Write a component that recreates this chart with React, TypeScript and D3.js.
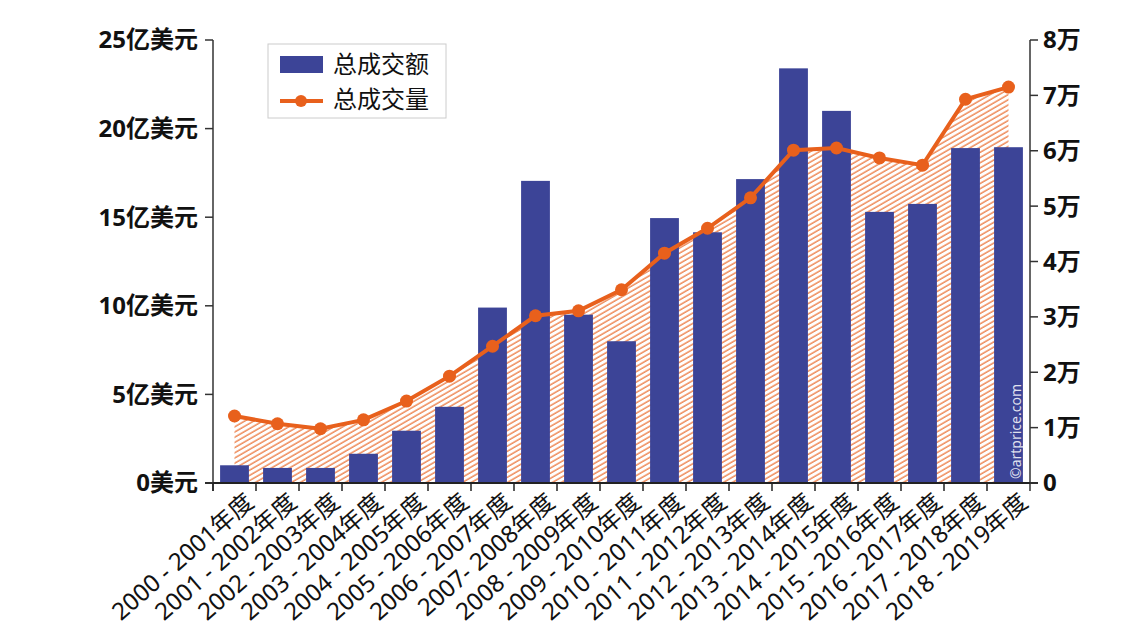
import React from "react";
import * as d3 from "d3";

const categories = [
  "2000 - 2001年度", "2001 - 2002年度", "2002 - 2003年度", "2003 - 2004年度",
  "2004 - 2005年度", "2005 - 2006年度", "2006 - 2007年度", "2007- 2008年度",
  "2008 - 2009年度", "2009 - 2010年度", "2010 - 2011年度", "2011 - 2012年度",
  "2012 - 2013年度", "2013 - 2014年度", "2014 - 2015年度", "2015 - 2016年度",
  "2016 - 2017年度", "2017 - 2018年度", "2018 - 2019年度",
];
// 总成交额 (亿美元)
const turnover = [1.0, 0.85, 0.85, 1.65, 2.95, 4.3, 9.9, 17.05, 9.5, 8.0, 14.95, 14.15, 17.15, 23.4, 21.0, 15.3, 15.75, 18.9, 18.95];
// 总成交量 (万)
const lots = [1.21, 1.07, 0.98, 1.14, 1.48, 1.93, 2.47, 3.02, 3.11, 3.49, 4.15, 4.6, 5.15, 6.01, 6.05, 5.87, 5.74, 6.93, 7.15];
const leftTicks = [0, 5, 10, 15, 20, 25];
const rightTicks = [0, 1, 2, 3, 4, 5, 6, 7, 8];
const leftFmt = (v: number) => (v === 0 ? "0美元" : `${v}亿美元`);
const rightFmt = (v: number) => (v === 0 ? "0" : `${v}万`);

const BAR = "#3c4497";
const ORANGE = "#e8601c";
const FONT = "'Noto Sans', 'Noto Sans CJK SC', sans-serif";

export default function App() {
  const W = 1140, H = 635;
  const left = 213, right = 1030, top = 40, bottom = 483;
  const x = d3.scaleBand<string>().domain(categories).range([left, right]).paddingInner(0.33).paddingOuter(0.165);
  const xb = d3.scaleBand<string>().domain(categories).range([left, right]);
  const yL = d3.scaleLinear().domain([0, 25]).range([bottom, top]);
  const yR = d3.scaleLinear().domain([0, 8]).range([bottom, top]);
  const cx = (c: string) => (xb(c) as number) + xb.bandwidth() / 2;
  const pts: [number, number][] = categories.map((c, i) => [cx(c), yR(lots[i])]);
  const line = d3.line()(pts) as string;
  const area = d3.area<[number, number]>().x((d) => d[0]).y0(bottom).y1((d) => d[1])(pts) as string;

  return (
    <svg width={W} height={H} style={{ position: "absolute", left: 0, top: 0 }} fontFamily={FONT}>
      <defs>
        <pattern id="hatch" patternUnits="userSpaceOnUse" width="4.5" height="8" patternTransform="rotate(60)">
          <line x1="1" y1="-1" x2="1" y2="9" stroke={ORANGE} strokeWidth="1.1" />
        </pattern>
      </defs>
      <rect width={W} height={H} fill="#fff" />
      <path d={area} fill="url(#hatch)" />
      {categories.map((c, i) => (
        <rect key={c} x={x(c)} y={yL(turnover[i])} width={x.bandwidth()} height={bottom - yL(turnover[i])} fill={BAR} />
      ))}
      <path d={line} fill="none" stroke={ORANGE} strokeWidth={4} />
      {pts.map((p, i) => (
        <circle key={i} cx={p[0]} cy={p[1]} r={6.5} fill={ORANGE} />
      ))}
      {/* watermark */}
      <text transform={`translate(${cx(categories[18]) + 12},${bottom - 4}) rotate(-90)`} fill="#fff" fillOpacity={0.85} fontSize={14}>©artprice.com</text>
      {/* axes */}
      <line x1={left} x2={left} y1={top} y2={bottom + 8} stroke="#333" strokeWidth={1.5} />
      <line x1={right} x2={right} y1={top} y2={bottom + 8} stroke="#333" strokeWidth={1.5} />
      <line x1={left - 8} x2={right + 8} y1={bottom} y2={bottom} stroke="#222" strokeWidth={2} />
      {leftTicks.map((t) => (
        <g key={t}>
          <line x1={left - 8} x2={left} y1={yL(t)} y2={yL(t)} stroke="#333" strokeWidth={1.5} />
          <text x={left - 15} y={yL(t)} dy="0.35em" textAnchor="end" fontSize={24} fontWeight="bold" fill="#111">{leftFmt(t)}</text>
        </g>
      ))}
      {rightTicks.map((t) => (
        <g key={t}>
          <line x1={right} x2={right + 8} y1={yR(t)} y2={yR(t)} stroke="#333" strokeWidth={1.5} />
          <text x={right + 13} y={yR(t)} dy="0.35em" textAnchor="start" fontSize={24} fontWeight="bold" fill="#111">{rightFmt(t)}</text>
        </g>
      ))}
      {categories.map((c, i) => (
        <line key={"t" + i} x1={xb(c) as number} x2={xb(c) as number} y1={bottom} y2={bottom + 8} stroke="#222" strokeWidth={1.5} />
      ))}
      {categories.map((c) => (
        <text key={"l" + c} transform={`translate(${cx(c) + 9},${bottom + 8}) rotate(-41)`} textAnchor="end" dy="0.75em" fontSize={24} fill="#111">{c}</text>
      ))}
      {/* legend */}
      <rect x={268} y={44} width={178} height={74} fill="#fff" stroke="#ccc" strokeWidth={1} />
      <rect x={280} y={56} width={43} height={17} fill={BAR} />
      <text x={333} y={65} dy="0.35em" fontSize={24} fill="#111">总成交额</text>
      <line x1={280} x2={323} y1={101} y2={101} stroke={ORANGE} strokeWidth={4} />
      <circle cx={301} cy={101} r={6} fill={ORANGE} />
      <text x={333} y={100} dy="0.35em" fontSize={24} fill="#111">总成交量</text>
    </svg>
  );
}
